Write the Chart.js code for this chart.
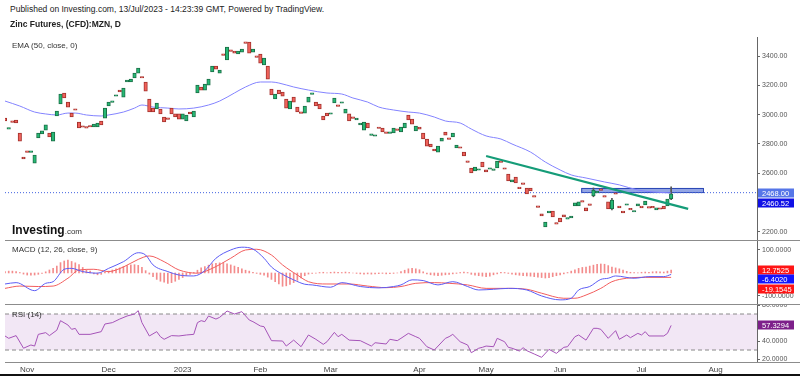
<!DOCTYPE html>
<html>
<head>
<meta charset="utf-8">
<script src="https://cdn.jsdelivr.net/npm/chart.js@4.4.0/dist/chart.umd.min.js"></script>
<style>
  html, body { margin: 0; padding: 0; background: #fff; }
  #wrap { position: relative; width: 800px; height: 376px; overflow: hidden; font-family: 'Liberation Sans', Arial, sans-serif; color: #222; }
  .pane { position: absolute; left: 0; }
  .txt { position: absolute; white-space: nowrap; z-index: 5; }
  .hline { position: absolute; left: 5px; width: 795px; height: 1px; background: #8c8c8c; z-index: 4; }
</style>
</head>
<body>
<div id="wrap">
  <canvas class="pane" id="priceChart" width="800" height="203" style="top:37px"></canvas>
  <canvas class="pane" id="macdChart" width="800" height="63" style="top:241px"></canvas>
  <canvas class="pane" id="rsiChart" width="800" height="70" style="top:305px"></canvas>

  <div class="hline" style="top:240px"></div>
  <div class="hline" style="top:304px"></div>
  <div class="hline" style="top:362px"></div>
  <div style="position:absolute; left:0; top:374px; width:800px; height:2px; background:#111;"></div>

  <div class="txt" style="left:10px; top:4px; font-size:8.5px;">Published on Investing.com, 13/Jul/2023 - 14:23:39 GMT, Powered by TradingView.</div>
  <div class="txt" style="left:10px; top:19px; font-size:8.5px; font-weight:bold;">Zinc Futures, (CFD):MZN, D</div>
  <div class="txt" style="left:12px; top:41px; font-size:8px; color:#333;">EMA (50, close, 0)</div>
  <div class="txt" style="left:12px; top:245px; font-size:8px; color:#333;">MACD (12, 26, close, 9)</div>
  <div class="txt" style="left:12px; top:310px; font-size:8px; color:#333;">RSI (14)</div>
  <div class="txt" style="left:12px; top:220px;"><span style="font-size:12px; font-weight:bold; color:#111;">Investing</span><span style="font-size:8px; color:#333;">.com</span></div>
</div>

<script>
// bars are trading days, counted from the first candle on the left
const monthIdx = [6, 28, 48, 69, 88, 112, 130, 150, 172, 192]
const monthNames = ['Nov', 'Dec', '2023', 'Feb', 'Mar', 'Apr', 'May', 'Jun', 'Jul', 'Aug']
const xMax = 203.2 // empty days after the last candle

const opens = [
  2977, 2902, 2952, 2964, 2875, 2711, 2748, 2743, 2670, 2841,
  2868, 2895, 2875, 2820, 2991, 3073, 3148, 3086, 3011, 3034,
  2950, 2918, 2910, 2923, 2916, 2916, 2957, 2977, 3059, 3084,
  3126, 3168, 3120, 3223, 3223, 3250, 3284, 3257, 3223, 3107,
  3045, 3039, 3039, 2984, 2972, 3045, 3005, 3005, 2970, 2957,
  3018, 2984, 3148, 3189, 3168, 3202, 3291, 3332, 3284, 3409,
  3373, 3436, 3434, 3414, 3427, 3491, 3495, 3427, 3395, 3414,
  3339, 3332, 3175, 3107, 3168, 3155, 3107, 3039, 3120, 3052,
  3013, 3011, 3086, 3139, 3086, 3073, 2991, 3011, 3003, 3080,
  3061, 3078, 3011, 3005, 2979, 2964, 2930, 2895, 2943, 2859,
  2853, 2912, 2909, 2877, 2873, 2875, 2897, 2882, 2909, 2998,
  2970, 2889, 2916, 2875, 2834, 2800, 2766, 2745, 2820, 2882,
  2836, 2848, 2773, 2775, 2745, 2680, 2636, 2616, 2621, 2677,
  2623, 2628, 2620, 2636, 2679, 2632, 2595, 2541, 2575, 2500,
  2530, 2500, 2500, 2445, 2372, 2323, 2234, 2330, 2343, 2257,
  2295, 2316, 2287, 2295, 2377, 2377, 2407, 2364, 2387, 2445,
  2466, 2488, 2441, 2405, 2357, 2462, 2377, 2343, 2382, 2357,
  2336, 2377, 2377, 2384, 2366, 2370, 2350, 2359, 2377, 2377,
  2425
]
const closes = [
  2957, 2909, 2948, 2943, 2820, 2698, 2743, 2748, 2725, 2875,
  2889, 2930, 2848, 2882, 3025, 3141, 3114, 3052, 2984, 3030,
  2909, 2914, 2908, 2916, 2936, 2943, 2930, 3045, 3086, 3088,
  3128, 3155, 3182, 3236, 3243, 3284, 3318, 3250, 3161, 3018,
  3018, 3080, 3005, 2950, 2968, 3005, 2984, 2970, 3005, 2998,
  3005, 3025, 3202, 3168, 3209, 3243, 3332, 3311, 3305, 3405,
  3461, 3432, 3420, 3434, 3448, 3487, 3420, 3448, 3391, 3352,
  3386, 3243, 3134, 3141, 3141, 3127, 3045, 3093, 3086, 3018,
  3009, 3059, 3120, 3143, 3059, 3039, 2964, 2991, 3007, 3114,
  3057, 3082, 3039, 2957, 2975, 2977, 2943, 2950, 2909, 2863,
  2857, 2906, 2882, 2873, 2876, 2909, 2893, 2916, 2943, 2964,
  2936, 2923, 2902, 2834, 2786, 2780, 2752, 2786, 2841, 2861,
  2832, 2875, 2793, 2771, 2718, 2675, 2602, 2643, 2625, 2643,
  2609, 2632, 2626, 2684, 2675, 2628, 2548, 2555, 2534, 2495,
  2525, 2459, 2480, 2437, 2368, 2309, 2268, 2343, 2302, 2253,
  2268, 2302, 2291, 2309, 2398, 2405, 2403, 2343, 2381, 2486,
  2473, 2484, 2437, 2357, 2418, 2457, 2364, 2330, 2386, 2350,
  2343, 2391, 2364, 2411, 2362, 2364, 2364, 2355, 2357, 2425,
  2460.52
]
// only the wicks that show in the picture: [day, low, high]
const wicks = [[180, 2420, 2507], [159, 2440, 2500], [164, 2350, 2430]]

const emaPoints = [
  [0, 3093], [4, 3059], [8, 3018], [11, 3005], [14, 2998], [17, 3011], [19, 3011], [22, 2998],
  [26, 2991], [28, 2998], [32, 3018], [35, 3045], [37, 3066], [40, 3052], [44, 3045], [47, 3039],
  [51, 3045], [55, 3066], [58, 3093], [62, 3148], [65, 3189], [69, 3223], [72, 3223], [74, 3216],
  [78, 3189], [82, 3168], [87, 3148], [91, 3141], [94, 3114], [98, 3086], [101, 3052], [105, 3032],
  [109, 3018], [112, 3011], [116, 2984], [119, 2957], [123, 2943], [126, 2902], [130, 2855], [134, 2834],
  [137, 2800], [142, 2745], [146, 2677], [150, 2623], [153, 2589], [157, 2568], [162, 2541], [166, 2521],
  [171, 2486], [175, 2473], [180, 2466]
]
const trendLine = [[130, 2718], [184.6, 2357]]
const levelPrice = 2468.00
const zoneDays = [155.7, 188.6]
const zonePrices = [2472, 2500]
const priceTicks = [2200, 2600, 2800, 3000, 3200, 3400]

const macdPoints = [
  [0, -48], [3, -42], [8, -77], [11, -45], [13, -38], [16, 16], [18, 20], [21, 6], [25, -1], [28, 20],
  [32, 49], [36, 88], [38, 78], [40, 35], [44, 6], [47, -9], [51, -13], [54, 10], [57, 64], [61, 100],
  [64, 112], [67, 104], [70, 64], [72, 26], [75, -6], [78, -30], [81, -49], [83, -52], [88, -62], [91, -42],
  [96, -59], [101, -65], [105, -59], [107, -52], [110, -30], [113, -33], [117, -52], [121, -38], [125, -59], [128, -74],
  [132, -71], [136, -67], [141, -74], [145, -100], [150, -117], [153, -110], [155, -74], [158, -59], [161, -28], [163, -23],
  [165, -13], [170, -23], [174, -16], [178, -16], [180, -6.4020]
]
const signalPoints = [
  [0, -67], [4, -57], [9, -59], [13, -57], [17, -23], [20, 13], [24, 16], [28, 6], [32, 26], [36, 59],
  [39, 74], [43, 49], [47, 13], [52, -1], [56, 20], [61, 64], [65, 100], [68, 103], [72, 78], [75, 35],
  [79, -9], [82, -38], [87, -48], [93, -48], [98, -57], [103, -64], [107, -59], [111, -45], [116, -42], [120, -45],
  [125, -52], [130, -67], [136, -67], [141, -71], [145, -88], [151, -110], [154, -110], [157, -96], [161, -67], [164, -38],
  [168, -23], [173, -19], [180, -19.1545]
]
const histValues = [
  6, 8, 8, 6, 2, -5, -9, -10, -9, -6,
  -2, 5, 13, 20, 30, 45, 52, 56, 50, 44,
  36, 24, 14, 8, -4, -8, -6, 3, 8, 13,
  18, 22, 28, 32, 35, 36, 33, 25, 10, -5,
  -16, -28, -36, -40, -45, -42, -36, -28, -20, -12,
  -6, 2, 12, 22, 28, 34, 40, 42, 44, 43,
  40, 35, 30, 24, 18, 12, 8, 3, -2, -6,
  -10, -18, -28, -38, -48, -58, -56, -50, -42, -32,
  -22, -12, -5, -2, -1, 2, 3, 1, 3, 4,
  3, 2, 4, 2, 0, -2, -4, -5, -4, -5,
  -4, -3, -2, -4, -3, -2, 0, 6, 12, 18,
  20, 18, 14, 5, -4, -8, -10, -12, -10, -8,
  -6, -4, -2, 2, 4, 2, -6, -10, -12, -14,
  -16, -14, -8, -4, 3, 2, -2, -5, -8, -10,
  -12, -13, -14, -16, -18, -20, -22, -20, -16, -12,
  -8, -4, 2, 8, 14, 20, 24, 26, 30, 34,
  37, 39, 38, 32, 26, 22, 18, 12, 7, 3,
  2, 1, 3, 4, 3, 5, 6, 5, 4, 8,
  12.7525
]
const macdTicks = [-100, 100]

const rsiPoints = [
  [0, 45.6], [1, 43], [3, 46], [5, 32], [7, 35.6], [8, 34.4], [9, 47.4], [11, 49.3], [12, 46], [14, 52],
  [15, 62.6], [17, 57.8], [18, 53], [19, 54], [20, 47.4], [23, 47.4], [26, 50.4], [27, 58.9], [29, 60.4], [31, 64.4],
  [33, 67.8], [35, 70], [36, 73.7], [37, 60.4], [39, 45.6], [41, 50.4], [42, 44.8], [43, 41.9], [45, 46], [47, 45.6],
  [49, 46.7], [51, 47.4], [52, 60.4], [53, 62.6], [54, 61.5], [55, 67.8], [57, 64.4], [58, 66.3], [60, 73.3], [62, 70],
  [64, 72.6], [66, 63.3], [67, 61.5], [69, 56.7], [70, 55.9], [72, 40.4], [75, 40], [76, 34.4], [78, 41], [80, 33.7],
  [82, 46.7], [84, 41.9], [86, 36.3], [87, 39.2], [89, 49.6], [90, 44.8], [91, 47.4], [93, 41], [96, 40.4], [99, 34.4],
  [100, 38.1], [103, 36.7], [104, 41.9], [106, 40.4], [107, 43], [109, 48.5], [111, 44.8], [112, 43], [114, 33.7], [116, 30],
  [119, 43], [120, 44.8], [121, 47.4], [123, 39.2], [125, 35.6], [126, 27], [128, 32], [129, 33], [130, 34.4], [132, 33.7],
  [133, 43], [135, 39.2], [136, 33], [137, 32], [139, 28.9], [140, 32.6], [141, 29.3], [143, 25.6], [145, 21.9], [147, 30.7],
  [149, 26.3], [151, 33], [152, 33.7], [154, 44.8], [155, 46.7], [157, 41], [159, 54.1], [160, 54.1], [161, 53], [163, 43],
  [165, 51.5], [166, 41.9], [168, 46.7], [169, 43.7], [171, 48.5], [172, 46.7], [173, 50.4], [174, 45.6], [178, 45.6], [179, 48.5],
  [180, 57.3294]
]
const rsiBand = [30, 70]
const rsiTicks = [20, 40, 80]

const FONT = "'Liberation Sans', Arial, sans-serif"
const UP = '#26b874', UP_EDGE = '#1b6e46'
const DOWN = '#f0625a', DOWN_EDGE = '#a3302c'

const toXY = pts => pts.map(p => ({ x: p[0], y: p[1] }))

// draw the last-value boxes on the right axis
const valueBoxes = {
  id: 'valueBoxes',
  afterDraw(chart, args, opts) {
    const { ctx, chartArea, scales } = chart
    ctx.save()
    ctx.font = '7.5px ' + FONT
    ctx.textBaseline = 'middle'
    opts.boxes.forEach(b => {
      const py = Math.round(scales.y.getPixelForValue(b.value)) + (b.dy || 0)
      ctx.fillStyle = b.bg
      ctx.fillRect(chartArea.right + 1, py - 4.5, 36, 9)
      ctx.fillStyle = '#fff'
      ctx.fillText(b.value.toFixed(b.digits), chartArea.right + 5, py + 0.5)
    })
    ctx.restore()
  }
}

// blue box drawn on the chart (price zone)
const zoneBox = {
  id: 'zoneBox',
  beforeDatasetsDraw(chart) {
    const { ctx, scales: { x, y } } = chart
    const x0 = x.getPixelForValue(zoneDays[0]), x1 = x.getPixelForValue(zoneDays[1])
    const y0 = y.getPixelForValue(zonePrices[1]), y1 = y.getPixelForValue(zonePrices[0])
    ctx.save()
    ctx.fillStyle = 'rgba(75, 105, 210, 0.6)'
    ctx.strokeStyle = '#2b47b5'
    ctx.lineWidth = 1
    ctx.fillRect(x0, y0, x1 - x0, y1 - y0)
    ctx.strokeRect(x0 + 0.5, y0 + 0.5, x1 - x0, y1 - y0)
    ctx.restore()
  }
}

function rightAxis(min, max, tickList, digits) {
  return {
    position: 'right',
    min: min,
    max: max,
    afterBuildTicks: s => { s.ticks = tickList.map(v => ({ value: v })) },
    afterFit: s => { s.width = 43; s.paddingTop = 0; s.paddingBottom = 0 },
    ticks: { color: '#555', font: { family: FONT, size: 7 }, padding: 2, callback: v => v.toFixed(digits) },
    grid: { drawOnChartArea: false, tickLength: 3, color: '#666' },
    border: { display: true, color: '#666' }
  }
}

function hiddenX() {
  return { type: 'linear', min: 0, max: xMax, offset: false, display: false }
}

const baseOptions = {
  responsive: false,
  animation: false,
  events: [],
  layout: { padding: { left: 5, right: 0, top: 0, bottom: 0 } },
  plugins: { legend: { display: false }, tooltip: { enabled: false } }
}

// price pane
new Chart(document.getElementById('priceChart'), {
  type: 'bar',
  data: {
    datasets: [
      {
        type: 'line',
        data: [{ x: 0, y: levelPrice }, { x: xMax, y: levelPrice }],
        borderColor: '#4062e0',
        borderWidth: 1,
        borderDash: [1, 2],
        pointRadius: 0,
        order: 6
      },
      {
        type: 'bar',
        data: wicks.map(w => ({ x: w[0], y: [w[1], w[2]] })),
        backgroundColor: '#555',
        barThickness: 1,
        grouped: false,
        order: 5
      },
      {
        type: 'line',
        data: toXY(emaPoints),
        borderColor: '#8383ff',
        borderWidth: 1,
        pointRadius: 0,
        cubicInterpolationMode: 'monotone',
        order: 4
      },
      {
        type: 'bar',
        data: opens.map((o, i) => ({ x: i, y: [o, closes[i]] })),
        backgroundColor: opens.map((o, i) => closes[i] >= o ? UP : DOWN),
        borderColor: opens.map((o, i) => closes[i] >= o ? UP_EDGE : DOWN_EDGE),
        borderWidth: 1,
        borderSkipped: false,
        barThickness: 3.5,
        minBarLength: 1.5,
        grouped: false,
        order: 3
      },
      {
        type: 'line',
        data: toXY(trendLine),
        borderColor: '#159c78',
        borderWidth: 2.2,
        pointRadius: 0,
        order: 1
      }
    ]
  },
  options: {
    ...baseOptions,
    scales: { x: hiddenX(), y: rightAxis(2145, 3530, priceTicks, 2) },
    plugins: {
      ...baseOptions.plugins,
      valueBoxes: {
        boxes: [
          { value: levelPrice, digits: 2, bg: '#5676e8' },
          { value: closes[closes.length - 1], digits: 2, bg: '#1010e6', dy: 9 }
        ]
      }
    }
  },
  plugins: [zoneBox, valueBoxes]
})

// MACD pane
new Chart(document.getElementById('macdChart'), {
  type: 'bar',
  data: {
    datasets: [
      {
        type: 'bar',
        data: histValues.map((v, i) => ({ x: i, y: v })),
        backgroundColor: '#f38c8c',
        barThickness: 1,
        order: 3
      },
      {
        type: 'line',
        data: toXY(signalPoints),
        borderColor: '#f25d5d',
        borderWidth: 1,
        pointRadius: 0,
        cubicInterpolationMode: 'monotone',
        order: 2
      },
      {
        type: 'line',
        data: toXY(macdPoints),
        borderColor: '#5c5cf5',
        borderWidth: 1,
        pointRadius: 0,
        cubicInterpolationMode: 'monotone',
        order: 1
      }
    ]
  },
  options: {
    ...baseOptions,
    scales: { x: hiddenX(), y: rightAxis(-135, 139, macdTicks, 4) },
    plugins: {
      ...baseOptions.plugins,
      valueBoxes: {
        boxes: [
          { value: histValues[histValues.length - 1], digits: 4, bg: '#ff1414' },
          { value: macdPoints[macdPoints.length - 1][1], digits: 4, bg: '#1414ff', dy: 5 },
          { value: signalPoints[signalPoints.length - 1][1], digits: 4, bg: '#ff1414', dy: 12 }
        ]
      }
    }
  },
  plugins: [valueBoxes]
})

// RSI pane, with the shared date axis
new Chart(document.getElementById('rsiChart'), {
  type: 'line',
  data: {
    datasets: [
      {
        data: [{ x: 0, y: rsiBand[1] }, { x: xMax, y: rsiBand[1] }],
        borderColor: '#8a8a8a',
        borderWidth: 1,
        borderDash: [4, 3],
        pointRadius: 0,
        fill: '+1',
        backgroundColor: 'rgba(150, 60, 170, 0.12)',
        order: 3
      },
      {
        data: [{ x: 0, y: rsiBand[0] }, { x: xMax, y: rsiBand[0] }],
        borderColor: '#8a8a8a',
        borderWidth: 1,
        borderDash: [4, 3],
        pointRadius: 0,
        order: 2
      },
      {
        data: toXY(rsiPoints),
        borderColor: '#a553b8',
        borderWidth: 1,
        pointRadius: 0,
        order: 1
      }
    ]
  },
  options: {
    ...baseOptions,
    scales: {
      x: {
        type: 'linear',
        min: 0,
        max: xMax,
        offset: false,
        afterBuildTicks: s => { s.ticks = monthIdx.map(v => ({ value: v })) },
        afterFit: s => { s.height = 13; s.paddingLeft = 0; s.paddingRight = 0 },
        ticks: {
          color: '#444',
          font: { family: FONT, size: 8 },
          padding: 3,
          autoSkip: false,
          maxRotation: 0,
          callback: (v, i) => monthNames[i]
        },
        grid: { display: false, drawTicks: false },
        border: { display: false }
      },
      y: rightAxis(16.7, 80, rsiTicks, 4)
    },
    plugins: {
      ...baseOptions.plugins,
      valueBoxes: {
        boxes: [{ value: rsiPoints[rsiPoints.length - 1][1], digits: 4, bg: '#7d1f8a' }]
      }
    }
  },
  plugins: [valueBoxes]
})
</script>
</body>
</html>
